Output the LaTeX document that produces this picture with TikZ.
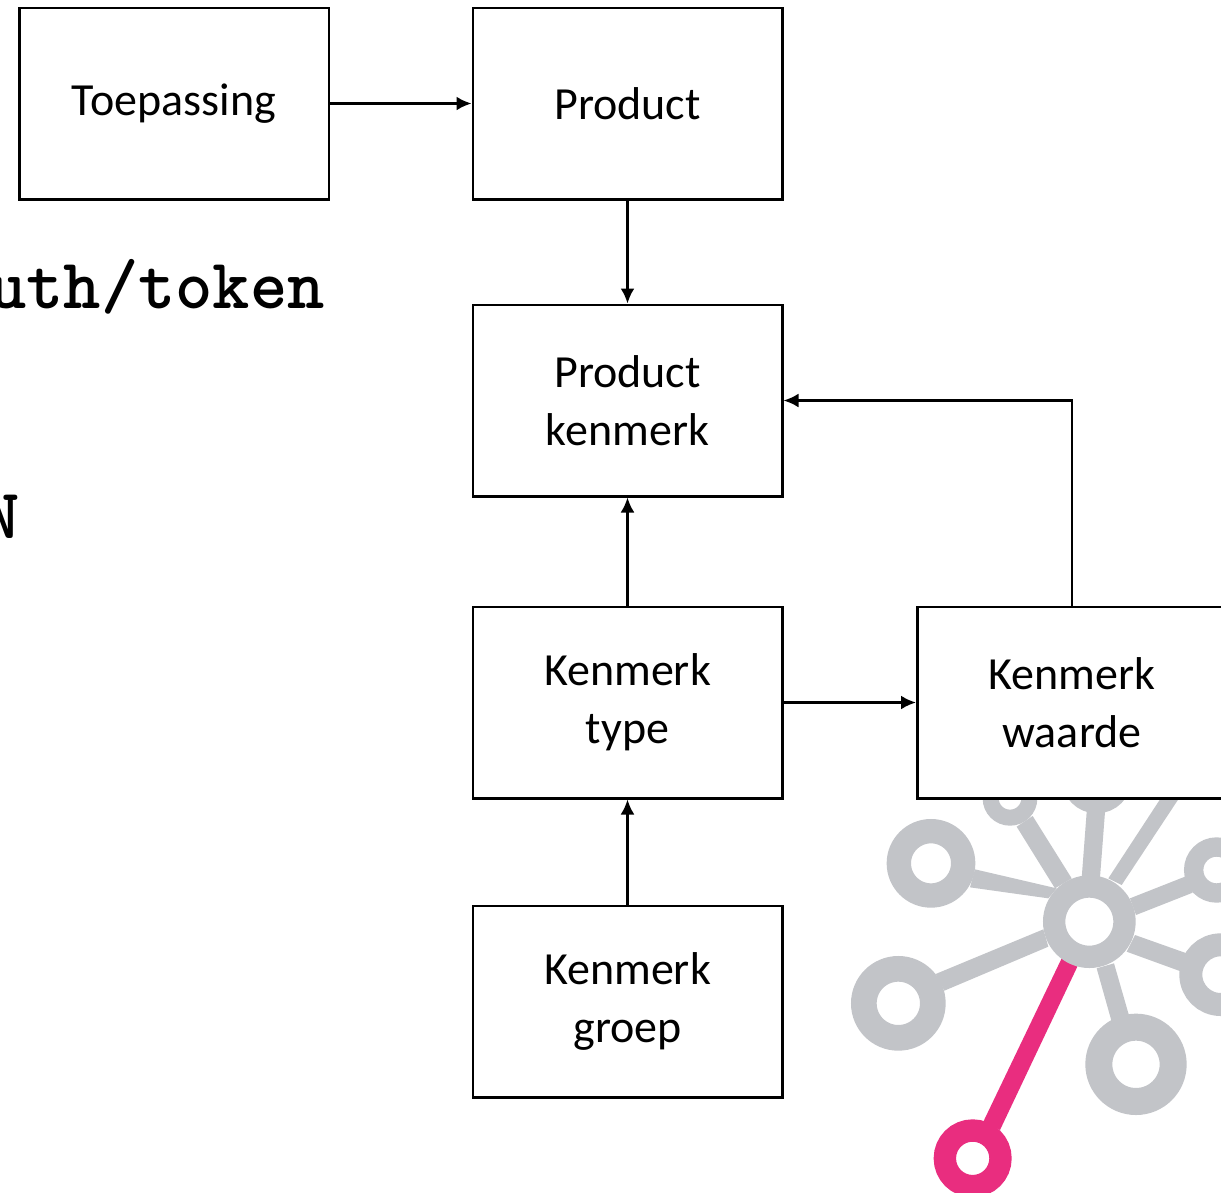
\documentclass[tikz,border=0pt]{standalone}
\usepackage{fontspec}
\setmainfont{Carlito}
\usetikzlibrary{arrows.meta}
\definecolor{logogray}{HTML}{C2C4C8}
\definecolor{logopink}{HTML}{E92D7F}
\tikzset{
  boxnode/.style={draw=black,fill=white,line width=2.5pt,minimum width=309.5pt,minimum height=191.5pt,inner sep=0pt,align=center,font=\fontsize{46}{58}\selectfont},
  conn/.style={line width=2.5pt,-{Latex[length=15pt,width=14pt]}},
  codetext/.style={inner sep=0pt,font=\fontsize{71}{71}\ttfamily\bfseries\selectfont},
  spoke/.style={fill=logogray},
  pinkspoke/.style={fill=logopink}
}
\newcommand{\logoring}[5]{\draw[#1,line width={(#4-#5)/3*1pt},fill=white] (#2,#3) circle [radius={(#4+#5)/2}];}
\begin{document}
\begin{tikzpicture}[x=1pt,y=-1pt]
\clip (0,0) rectangle (1221,1192);
\useasboundingbox (0,0) rectangle (1221,1192);
\fill[white] (0,0) rectangle (1221,1192);
% logo
\begin{scope}[shift={(840,790)},x=0.33333pt,y=-0.33333pt]
\fill[pinkspoke] (665,505)--(712,530)--(480,1020)--(430,995)--cycle;
\fill[spoke] (405,238)--(390,292)--(625,325)--(650,295)--cycle;
\fill[spoke] (287,552)--(313,602)--(625,470)--(610,418)--cycle;
\fill[spoke] (770,535)--(822,520)--(868,680)--(815,695)--cycle;
\fill[spoke] (885,435)--(860,485)--(1025,545)--(1040,490)--cycle;
\fill[spoke] (888,375)--(870,325)--(1040,258)--(1058,308)--cycle;
\fill[spoke] (845,285)--(805,265)--(985,-10)--(1040,-10)--cycle;
\fill[spoke] (725,265)--(780,262)--(797,40)--(742,40)--cycle;
\fill[spoke] (695,265)--(645,295)--(530,110)--(578,78)--cycle;
\logoring{logogray}{748}{395}{139}{72}
\logoring{logogray}{273}{220}{133}{60}
\logoring{logogray}{175}{640}{142}{65}
\logoring{logogray}{888}{823}{152}{71}
\logoring{logopink}{398}{1105}{117}{50}
\logoring{logogray}{1130}{240}{98}{40}
\logoring{logogray}{1142}{554}{124}{55}
\logoring{logogray}{510}{25}{82}{34}
\logoring{logogray}{770}{-35}{105}{50}
\end{scope}
% code fragments
\node[codetext,anchor=base east] (code1) at (325,308) {uth/token};
\node[codetext,anchor=base east] (code2) at (20,538) {N};
% boxes
\node[boxnode] (toep) at (174,103.5) {Toepassing};
\node[boxnode] (prod) at (627.5,103.5) {Product};
\node[boxnode] (pk) at (627.5,400.5) {Product\\kenmerk};
\node[boxnode] (kt) at (627.5,702.5) {Kenmerk\\type};
\node[boxnode] (kw) at (1072,702.5) {Kenmerk\\waarde};
\node[boxnode] (kg) at (627.5,1001.5) {Kenmerk\\groep};
% connectors
\draw[conn] (toep.east) -- (prod.west);
\draw[conn] (prod.south) -- (pk.north);
\draw[conn] (kt.north) -- (pk.south);
\draw[conn] (kg.north) -- (kt.south);
\draw[conn] (kt.east) -- (kw.west);
\draw[conn] (kw.north) |- (pk.east);
\end{tikzpicture}
\end{document}
